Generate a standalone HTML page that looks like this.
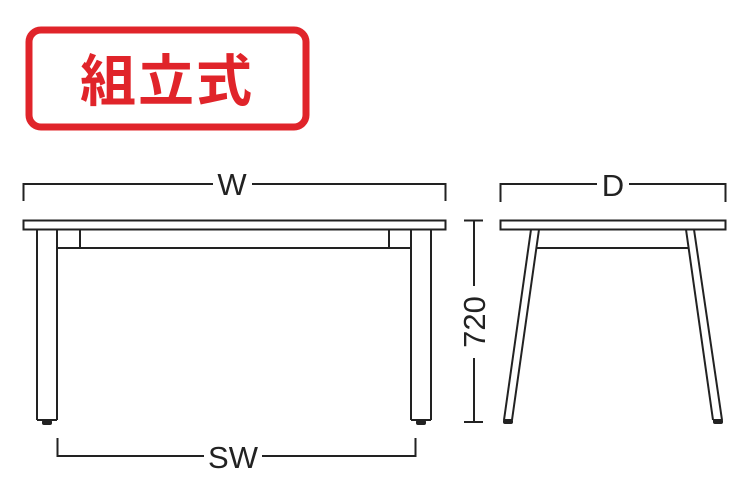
<!DOCTYPE html>
<html><head><meta charset="utf-8"><style>
html,body{margin:0;padding:0;background:#fff;width:755px;height:499px;overflow:hidden}
</style></head><body>
<svg width="755" height="499" viewBox="0 0 755 499" xmlns="http://www.w3.org/2000/svg">
<rect x="29" y="30" width="277" height="97" rx="12" ry="12" fill="none" stroke="#e0242a" stroke-width="7"/>
<text x="167" y="101" text-anchor="middle" font-family="'Noto Sans CJK JP','Noto Sans CJK SC',sans-serif" font-weight="bold" font-size="56" fill="#e0242a" letter-spacing="2">組立式</text>
<g fill="none" stroke="#222" stroke-width="2">
<!-- W dim -->
<polyline points="23.5,201 23.5,184 213,184"/>
<polyline points="252,184 445.5,184 445.5,201"/>
<!-- front table -->
<rect x="23.5" y="220.5" width="422" height="9"/>
<line x1="37" y1="229.5" x2="37" y2="420"/>
<line x1="57" y1="229.5" x2="57" y2="420"/>
<line x1="37" y1="420" x2="57" y2="420"/>
<line x1="80" y1="229.5" x2="80" y2="248"/>
<line x1="57" y1="248" x2="411" y2="248"/>
<line x1="389" y1="229.5" x2="389" y2="248"/>
<line x1="411" y1="229.5" x2="411" y2="420"/>
<line x1="431" y1="229.5" x2="431" y2="420"/>
<line x1="411" y1="420" x2="431" y2="420"/>
<!-- SW dim -->
<polyline points="57.5,438 57.5,456 204,456"/>
<polyline points="262,456 415.5,456 415.5,438"/>
<!-- D dim -->
<polyline points="500.5,202 500.5,184 597,184"/>
<polyline points="629,184 725.5,184 725.5,202"/>
<!-- side table -->
<rect x="500.5" y="220.5" width="225" height="9"/>
<line x1="531" y1="229.5" x2="504" y2="420"/>
<line x1="539" y1="229.5" x2="512" y2="420"/>
<line x1="504" y1="420" x2="512" y2="420"/>
<line x1="537" y1="248" x2="688" y2="248"/>
<line x1="686" y1="229.5" x2="713" y2="420"/>
<line x1="694" y1="229.5" x2="722" y2="420"/>
<line x1="713" y1="420" x2="722" y2="420"/>
<!-- 720 dim -->
<line x1="464" y1="220.5" x2="483" y2="220.5"/>
<line x1="464" y1="422" x2="483" y2="422"/>
<line x1="474" y1="220.5" x2="474" y2="286"/>
<line x1="474" y1="358" x2="474" y2="422"/>
</g>
<g fill="#222">
<rect x="42" y="420" width="10" height="5" rx="2"/>
<rect x="416" y="420" width="10" height="5" rx="2"/>
<rect x="503" y="419" width="10" height="5" rx="2"/>
<rect x="713" y="419" width="10" height="5" rx="2"/>
</g>
<g font-family="'Liberation Sans',sans-serif" font-size="31" fill="#222" text-anchor="middle">
<text x="232" y="195">W</text>
<text x="613" y="196">D</text>
<text x="233" y="468">SW</text>
<text transform="translate(485,322) rotate(-90)" x="0" y="0">720</text>
</g>
</svg>
</body></html>
